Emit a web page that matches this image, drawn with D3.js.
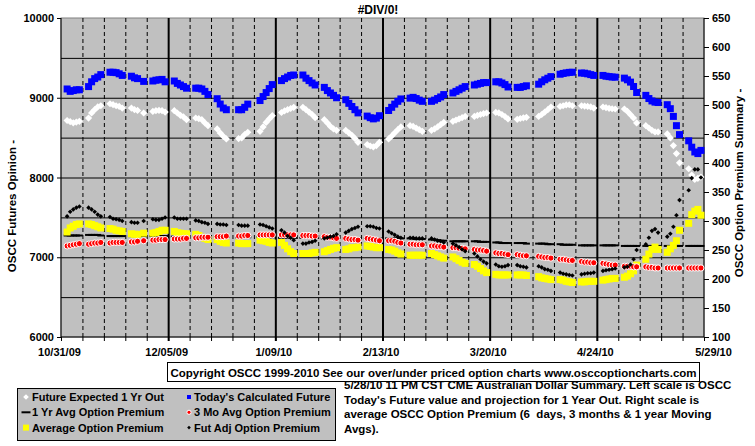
<!DOCTYPE html>
<html><head><meta charset="utf-8">
<script src="https://cdn.jsdelivr.net/npm/d3@7"></script>
<style>
body{margin:0;background:#fff;}
svg{display:block;font-family:"Liberation Sans",Arial,sans-serif;font-weight:bold;}
</style></head><body>
<svg id="c" width="755" height="446"></svg>
<script>
// ---------------- DATA ----------------
const chartTitle = "#DIV/0!";
const xTickLabels = ["10/31/09","12/05/09","1/09/10","2/13/10","3/20/10","4/24/10","5/29/10"];
const leftTicks = [6000,7000,8000,9000,10000];
const leftGrid = [6500,7000,7500,8000,8500,9000,9500];
const rightTicks = [100,150,200,250,300,350,400,450,500,550,600,650];
const seriesNames = ["Future Expected 1 Yr Out","Today's Calculated Future","1 Yr Avg Option Premium",
  "3 Mo Avg Option Premium","Average Option Premium","Fut Adj Option Premium"];
// trading days Mon..Fri for 30 weeks starting Mon 11/02/09 (null = holiday)
const futureExpected1Yr = [
 8715,8700,8685,8695,8705, 8745,8810,8850,8885,8900, 8925,8913,8900,8891,8871, 8871,8850,8841,null,8809,
 8829,8838,8841,8838,8821, 8838,8809,8779,8759,8725, 8746,8738,8725,8684,8650, 8609,8559,8516,8484,null,
 8488,8496,8538,8566,null, 8579,8634,8691,8734,8775, 8815,8835,8850,8865,8880, 8880,8850,8820,8790,8750,
 8725,8684,8641,8609,8591, 8590,8560,8530,8490,8441, 8413,8395,8384,8400,8441, 8484,8520,8560,8600,8634,
 8650,8640,8620,8600,8579, 8591,8609,8634,8663,8691, 8704,8720,8735,8750,8766, 8766,8780,8790,8800,8809,
 8816,8810,8790,8765,8734, 8730,8740,8748,8754,null, 8766,8790,8820,8850,8884, 8891,8900,8910,8912,8900,
 8900,8895,8891,8885,8871, 8884,8875,8868,8862,8859, 8859,8829,8788,8746,8684, 8650,8621,8591,8571,8571,
 8546,8496,8400,8300,8184, 8110,8030,7975,7990,8005];
const todaysCalculated = [
 9110,9080,9090,9100,9100, 9140,9200,9240,9260,9290, 9320,9320,9315,9300,9280, 9270,9250,9240,null,9205,
 9210,9220,9225,9230,9200, 9210,9180,9160,9140,9120, 9120,9120,9110,9080,9040, 8988,8921,8871,8850,null,
 8850,8850,8880,8920,null, 8965,9015,9065,9115,9165, 9215,9240,9260,9280,9285, 9285,9245,9215,9185,9160,
 9130,9090,9060,9030,9000, 8975,8930,8890,8850,8810, 8770,8750,8735,8745,8775, 8840,8880,8920,8955,8985,
 8995,9005,8990,8970,8955, 8955,8970,8990,9010,9040, 9060,9080,9100,9120,9140, 9160,9170,9180,9190,9190,
 9200,9200,9185,9165,9135, 9130,9130,9140,9150,null, 9170,9200,9225,9245,9265, 9295,9305,9312,9318,9320,
 9310,9308,9300,9290,9280, 9280,9270,9265,9260,9258, 9246,9225,9196,9141,9066, 9030,8990,8960,8945,8940,
 8913,8863,8766,8650,8538, 8460,8380,8320,8300,8340];
const oneYrAvgPremium = [
 275,275,275,275,275, 276,276,276,276,275, 274,274,274,274,274, 274,274,274,null,274,
 274,274,274,274,274, 273,273,273,273,273, 273,273,273,273,273, 273,273,273,273,null,
 272,272,272,272,null, 272,272,272,272,272, 271,271,271,271,271, 271,271,271,271,271,
 270,270,270,270,270, 270,270,270,270,270, 270,270,270,270,270, 270,270,270,270,270,
 270,270,269,269,269, 268,268,267,266,266, 265,265,265,265,265, 265,265,264,264,264,
 263,263,262,262,262, 262,262,262,261,null, 261,261,261,260,260, 260,259,259,259,259,
 258,258,258,258,258, 258,258,258,258,258, 257,257,257,257,257, 257,257,257,257,257,
 257,257,257,257,257, 257,257,257,257,257];
const threeMoAvgPremium = [
 257,258,259,260,261, 260,261,262,262,263, 262,263,263,263,263, 264,264,265,null,266,
 267,267,268,268,268, 269,269,269,270,270, 271,271,272,272,272, 273,273,273,274,null,
 274,274,275,275,null, 276,276,276,276,276, 276,276,276,276,276, 275,275,275,274,274,
 273,272,272,271,270, 270,269,268,268,267, 270,269,268,267,266, 266,266,265,263,262,
 260,260,259,259,259, 257,257,256,256,255, 254,254,253,253,252, 251,250,250,249,248,
 245,244,244,243,242, 242,241,240,240,null, 239,238,237,237,236, 234,234,233,232,232,
 230,229,229,228,228, 227,226,225,224,224, 222,222,222,221,221, 221,220,220,219,219,
 219,219,219,219,219, 219,219,219,219,219];
const averagePremium = [
 281,288,291,294,295, 295,294,292,290,288, 287,286,284,283,282, 278,277,277,null,279,
 279,280,282,284,284, 282,280,279,278,278, 277,275,272,270,268, 268,265,263,262,null,
 262,261,261,261,null, 267,266,265,263,262, 263,258,252,247,244, 244,244,244,245,246,
 247,249,251,253,254, 251,252,254,254,255, 257,256,255,254,254, 251,250,248,245,243,
 241,241,241,241,241, 244,242,240,238,236, 238,235,232,229,227, 225,222,218,214,211,
 208,207,207,207,207, 207,207,207,206,null, 204,202,201,200,199, 199,198,196,195,194,
 195,195,196,196,196, 198,199,200,201,201, 203,205,209,214,224, 234,243,251,255,251,
 246,252,258,266,284, 296,311,317,320,310];
const futAdjPremium = [
 308,316,320,323,325, 323,320,316,311,308, 307,304,303,302,300, 298,297,297,null,300,
 303,302,302,304,306, 306,304,304,304,304, 301,300,298,297,295, 295,294,294,293,null,
 293,292,292,292,null, 294,293,291,289,287, 284,280,274,271,267, 261,261,263,264,266,
 270,271,273,274,277, 280,283,286,288,290, 291,291,290,288,287, 282,279,276,273,271,
 271,271,270,270,270, 270,268,266,265,263, 261,258,255,251,248, 244,239,234,230,227,
 225,222,221,222,224, 224,222,221,220,null, 222,220,217,216,214, 211,209,208,207,206,
 208,209,210,210,211, 214,215,216,217,218, 220,221,225,234,250, 260,271,283,286,280,
 273,278,290,310,336, 353,374,389,389,375];
const copyrightText = "Copyright OSCC 1999-2010 See our over/under priced option charts www.osccoptioncharts.com";
const noteLines = ["5/28/10 11 PM CST CME Australian Dollar Summary. Left scale is OSCC",
 "Today's Future value and projection for 1 Year Out. Right scale is",
 "average OSCC Option Premium (6  days, 3 months & 1 year Moving",
 "Avgs)."];
const leftTitle = "OSCC Futures Opinion -";
const rightTitle = "OSCC Option Premium Summary -";

// ---------------- LAYOUT ----------------
const L=61, R=704, T=18, B=337;
const svg = d3.select("#c");
const t0 = new Date(Date.UTC(2009,9,31)), t1 = new Date(Date.UTC(2010,4,29));
const x = d3.scaleUtc().domain([t0,t1]).range([L,R]);
const yL = d3.scaleLinear().domain([6000,10000]).range([B,T]);
const yR = d3.scaleLinear().domain([100,650]).range([B,T]);
const days = [];
for (let w=0; w<30; w++) for (let d=0; d<5; d++) days.push(new Date(Date.UTC(2009,10,2+7*w+d)));
const saturdays = d3.utcSaturday.range(t0, new Date(+t1+86400000));
const majors = saturdays.filter((d,i)=>i%5===0);
const minors = saturdays.filter((d,i)=>i%5!==0);

svg.append("rect").attr("x",L).attr("y",T).attr("width",R-L).attr("height",B-T)
  .attr("fill","#C0C0C0").attr("stroke","#808080");

// horizontal gridlines
svg.append("g").attr("transform",`translate(${L},0)`)
  .call(d3.axisLeft(yL).tickValues(leftGrid).tickSize(-(R-L)).tickFormat(""))
  .call(g=>{g.select(".domain").remove(); g.selectAll("line").attr("stroke","#000");});
// weekly dashed lines
svg.append("g").attr("transform",`translate(0,${B})`)
  .call(d3.axisBottom(x).tickValues(minors).tickSize(-(B-T)).tickFormat(""))
  .call(g=>{g.select(".domain").remove(); g.selectAll("line").attr("stroke","#000").attr("stroke-dasharray","4,3");});
// weekly ticks under the axis
svg.append("g").attr("transform",`translate(0,${B})`)
  .call(d3.axisBottom(x).tickValues(minors).tickSize(4).tickFormat(""))
  .call(g=>{g.select(".domain").remove(); g.selectAll("line").attr("stroke","#000");});
// 5-week solid lines
svg.append("g").attr("transform",`translate(0,${B})`)
  .call(d3.axisBottom(x).tickValues(majors.slice(1,-1)).tickSize(-(B-T)).tickFormat(""))
  .call(g=>{g.select(".domain").remove(); g.selectAll("line").attr("stroke","#000").attr("stroke-width",2).attr("y1",4);});

// bottom axis with labels
const xa = svg.append("g").attr("transform",`translate(0,${B})`)
  .call(d3.axisBottom(x).tickValues(majors).tickSize(4).tickPadding(8).tickFormat((d,i)=>xTickLabels[i]));
xa.select(".domain").attr("stroke","#000").attr("d",`M${L},0H${R}`);
xa.selectAll("line").attr("stroke","#000");
xa.selectAll("text").attr("font-size",11).attr("font-weight","bold").attr("fill","#000")
  .attr("font-family","Liberation Sans, Arial, sans-serif")
  .attr("dy",null).attr("y",19).attr("dx",(d,i)=>i===xTickLabels.length-1?9:-2);

// left axis
const la = svg.append("g").attr("transform",`translate(${L},0)`)
  .call(d3.axisLeft(yL).tickValues(leftTicks).tickSize(4).tickPadding(3).tickFormat(d3.format("d")));
la.select(".domain").attr("stroke","#000").attr("d",`M0,${T}V${B}`);
la.selectAll("line").attr("stroke","#000");
la.selectAll("text").attr("font-size",11).attr("font-weight","bold").attr("fill","#000")
  .attr("font-family","Liberation Sans, Arial, sans-serif");

// right axis
const ra = svg.append("g").attr("transform",`translate(${R},0)`)
  .call(d3.axisRight(yR).tickValues(rightTicks).tickSize(5).tickPadding(3).tickFormat(d3.format("d")));
ra.select(".domain").attr("stroke","#000").attr("d",`M0,${T}V${B}`);
ra.selectAll("line").attr("stroke","#000");
ra.selectAll("text").attr("font-size",11).attr("font-weight","bold").attr("fill","#000")
  .attr("font-family","Liberation Sans, Arial, sans-serif");

// ---------------- SERIES ----------------
const pts = (arr, y) => arr.map((v,i)=>({d:days[i],v})).filter(p=>p.v!=null).map(p=>[x(p.d),y(p.v)]);
const diamond = r => `M0,${-r}L${r},0L0,${r}L${-r},0Z`;
function drawPath(arr, y, dpath, attrs){
  const g = svg.append("g");
  const s = g.selectAll("path").data(pts(arr,y)).join("path")
    .attr("transform",p=>`translate(${p[0]},${p[1]})`).attr("d",dpath);
  for (const k in attrs) s.attr(k, attrs[k]);
}
drawPath(futureExpected1Yr, yL, diamond(3.6), {fill:"#fff"});
drawPath(todaysCalculated, yL, "M-3.5,-3.5h7v7h-7Z", {fill:"#0000FF"});
drawPath(oneYrAvgPremium, yR, "M-3.5,-1h7v2h-7Z", {fill:"#000"});
drawPath(averagePremium, yR, "M-3.5,-3.5h7v7h-7Z", {fill:"#FFFF00"});
drawPath(threeMoAvgPremium, yR, d3.symbol(d3.symbolCircle, 30)(), {fill:"#FF0000", stroke:"#fff", "stroke-width":1});
drawPath(futAdjPremium, yR, diamond(2.3), {fill:"#000"});

// ---------------- TEXT ----------------
svg.append("text").attr("x",378).attr("y",14).attr("text-anchor","middle").attr("font-size",12).text(chartTitle);
svg.append("text").attr("transform","translate(16,206) rotate(-90)").attr("text-anchor","middle").attr("font-size",11.5).text(leftTitle);
svg.append("text").attr("transform","translate(743,183) rotate(-90)").attr("text-anchor","middle").attr("font-size",11.5).text(rightTitle);

svg.append("rect").attr("x",167.5).attr("y",362.5).attr("width",532).attr("height",19).attr("fill","#fff").attr("stroke","#000");
svg.append("text").attr("x",433.5).attr("y",377).attr("text-anchor","middle").attr("font-size",11.5).text(copyrightText);

noteLines.forEach((s,i)=>svg.append("text").attr("x",344).attr("y",389+i*14.6).attr("font-size",11.5).style("white-space","pre").text(s));

// legend
svg.append("rect").attr("x",17.5).attr("y",388.5).attr("width",318).attr("height",52).attr("fill","#C0C0C0").attr("stroke","#000");
const legMarks = [
  {path:diamond(2.8), fill:"#fff"},
  {path:"M-2,-2h4v4h-4Z", fill:"#0000FF"},
  {path:"M-4.5,-1h9v2h-9Z", fill:"#000"},
  {path:d3.symbol(d3.symbolCircle, 14)(), fill:"#FF0000", stroke:"#fff"},
  {path:"M-3,-3h6v6h-6Z", fill:"#FFFF00"},
  {path:diamond(1.8), fill:"#000"}
];
seriesNames.forEach((name,i)=>{
  const col=i%2, row=Math.floor(i/2);
  const mx = col===0?26:189, ty = 401+row*15.3;
  svg.append("path").attr("d",legMarks[i].path).attr("transform",`translate(${mx},${ty-4})`)
    .attr("fill",legMarks[i].fill).attr("stroke",legMarks[i].stroke||"none");
  svg.append("text").attr("x",col===0?32:194).attr("y",ty).attr("font-size",11).text(name);
});
</script>
</body></html>
